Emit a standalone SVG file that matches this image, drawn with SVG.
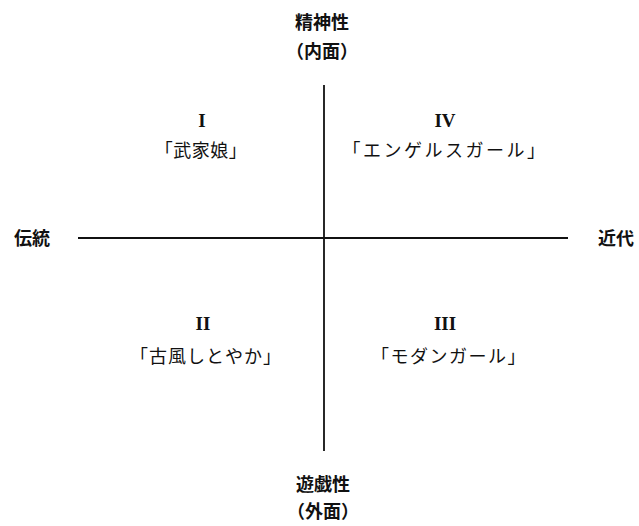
<svg xmlns="http://www.w3.org/2000/svg" width="639" height="526" viewBox="0 0 639 526">
<style>
.jp{font-family:"Noto Sans CJK JP","Noto Sans",sans-serif;font-size:18px;fill:#111;text-anchor:middle}
.ax{font-weight:bold}
.rn{font-family:"Liberation Serif",serif;font-size:19px;font-weight:bold;fill:#111;text-anchor:middle}
.line{stroke:#111;stroke-width:1.8;fill:none}
</style>
<rect width="639" height="526" fill="#fff"/>
<g id="connectors">
<line class="line" x1="324" y1="85" x2="324" y2="451"/>
<line class="line" x1="78" y1="238" x2="568" y2="238"/>
</g>
<g id="axis-top">
<text class="jp ax" x="322" y="29">精神性</text>
<text class="jp ax" x="322" y="58">（内面）</text>
</g>
<g id="axis-bottom">
<text class="jp ax" x="323" y="491">遊戯性</text>
<text class="jp ax" x="323" y="518">（外面）</text>
</g>
<g id="axis-left">
<text class="jp ax" x="32" y="245">伝統</text>
</g>
<g id="axis-right">
<text class="jp ax" x="616" y="245">近代</text>
</g>
<g id="q1">
<text class="rn" x="202" y="127">I</text>
<text class="jp" x="201" y="157" letter-spacing="0.5">「武家娘」</text>
</g>
<g id="q4">
<text class="rn" x="445" y="127">IV</text>
<text class="jp" x="445" y="157" letter-spacing="2.5">「エンゲルスガール」</text>
</g>
<g id="q2">
<text class="rn" x="203" y="330">II</text>
<text class="jp" x="206" y="363" letter-spacing="1">「古風しとやか」</text>
</g>
<g id="q3">
<text class="rn" x="445" y="330">III</text>
<text class="jp" x="449" y="363" letter-spacing="1.5">「モダンガール」</text>
</g>
</svg>
